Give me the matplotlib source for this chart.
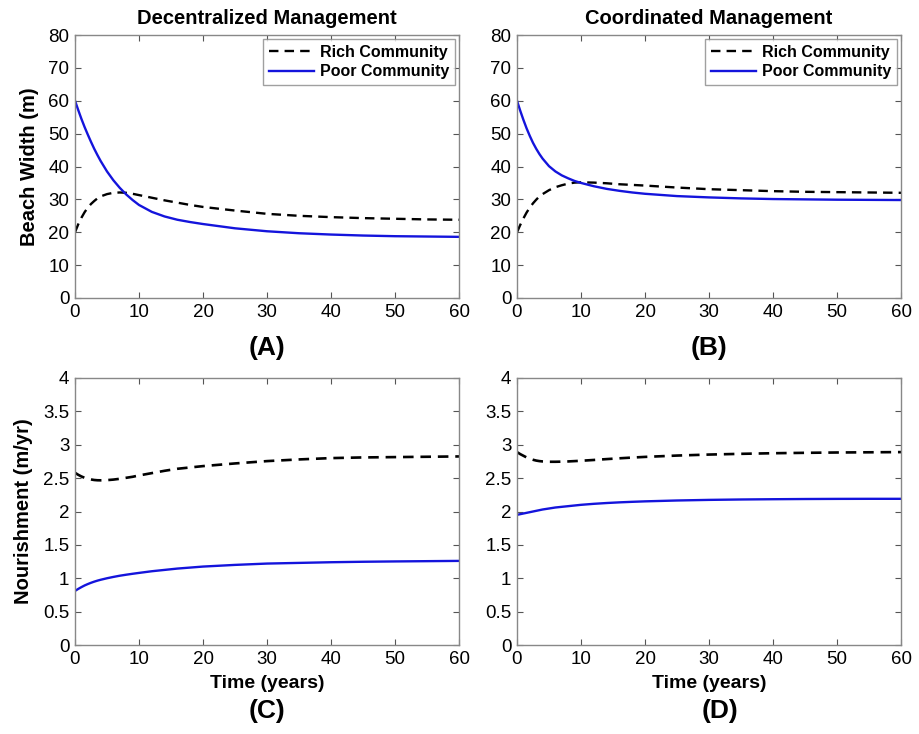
import matplotlib
matplotlib.use("Agg")
import matplotlib.pyplot as plt

plt.rcParams['font.family'] = ['Liberation Sans', 'DejaVu Sans']

t = [0, 0.5, 1, 1.5, 2, 2.5, 3, 3.5, 4, 5, 6, 7, 8, 9, 10, 12, 14, 16, 18, 20,
     25, 30, 35, 40, 45, 50, 55, 60]

# beach width (m)
width_rich_dec = [20, 22.4, 24.4, 26.1, 27.5, 28.6, 29.5, 30.3, 30.9, 31.6, 32, 32.1, 32, 31.7,
                  31.3, 30.5, 29.7, 29, 28.3, 27.7, 26.6, 25.6, 25, 24.6, 24.3, 24.1, 23.9, 23.8]
width_poor_dec = [60, 57.2, 54.5, 52, 49.7, 47.5, 45.4, 43.5, 41.7, 38.5, 35.8, 33.5, 31.5, 29.8,
                  28.3, 26.2, 24.8, 23.8, 23.1, 22.5, 21.2, 20.3, 19.7, 19.3, 19.0, 18.8, 18.7, 18.6]
width_rich_coo = [20, 22.2, 24.2, 26, 27.5, 28.8, 29.9, 30.9, 31.6, 32.8, 33.7, 34.3, 34.8, 35.1,
                  35.2, 35.1, 34.9, 34.6, 34.4, 34.2, 33.6, 33.1, 32.8, 32.5, 32.3, 32.2, 32.1, 32.0]
width_poor_coo = [60, 57, 54.2, 51.6, 49.3, 47.2, 45.4, 43.8, 42.4, 40.1, 38.5, 37.3, 36.4, 35.6,
                  35, 34, 33.2, 32.6, 32.1, 31.7, 31, 30.6, 30.3, 30.1, 30.0, 29.9, 29.85, 29.8]

# nourishment (m/yr)
nour_rich_dec = [2.58, 2.55, 2.525, 2.505, 2.49, 2.48, 2.472, 2.468, 2.467, 2.47, 2.478, 2.49,
                 2.505, 2.52, 2.54, 2.575, 2.61, 2.64, 2.66, 2.68, 2.72, 2.755, 2.78, 2.80,
                 2.81, 2.815, 2.82, 2.825]
nour_poor_dec = [0.81, 0.84, 0.867, 0.892, 0.913, 0.932, 0.949, 0.964, 0.977, 1.0, 1.02, 1.038,
                 1.053, 1.067, 1.08, 1.105, 1.125, 1.145, 1.16, 1.175, 1.2, 1.22, 1.23, 1.24,
                 1.247, 1.252, 1.256, 1.26]
nour_rich_coo = [2.89, 2.86, 2.835, 2.81, 2.79, 2.775, 2.763, 2.755, 2.75, 2.745, 2.745, 2.747,
                 2.75, 2.755, 2.76, 2.772, 2.785, 2.797, 2.808, 2.818, 2.838, 2.853, 2.864,
                 2.873, 2.879, 2.884, 2.887, 2.89]
nour_poor_coo = [1.95, 1.96, 1.97, 1.98, 1.99, 2.0, 2.01, 2.02, 2.03, 2.045, 2.06, 2.07, 2.08,
                 2.09, 2.1, 2.115, 2.127, 2.137, 2.145, 2.152, 2.165, 2.174, 2.18, 2.184,
                 2.187, 2.189, 2.19, 2.19]

fig = plt.figure(figsize=(9.19, 7.34), dpi=100)

W, H = 919, 734
def box(l, r, top, bot):
    return [l / W, 1 - bot / H, (r - l) / W, (bot - top) / H]

axA = fig.add_axes(box(75, 459, 35, 298))
axB = fig.add_axes(box(517, 901, 35, 298))
axC = fig.add_axes(box(75, 459, 378, 645))
axD = fig.add_axes(box(517, 901, 378, 645))

BLUE = '#1414dc'
DASH = (0, (4, 2.6))

def style(ax, ymax, ystep):
    ax.set_xlim(0, 60)
    ax.set_ylim(0, ymax)
    ax.set_xticks(range(0, 61, 10))
    yt = []
    v = 0
    while v <= ymax + 1e-9:
        yt.append(v)
        v += ystep
    ax.set_yticks(yt)
    ax.set_yticklabels(['%g' % y for y in yt])
    ax.tick_params(direction='in', top=True, right=True, length=4, width=0.8,
                   color='#555555', labelsize=13.5, pad=4)
    for s in ax.spines.values():
        s.set_color('#888888')
        s.set_linewidth(1.0)

for ax, rich, poor in [(axA, width_rich_dec, width_poor_dec), (axB, width_rich_coo, width_poor_coo)]:
    ax.plot(t, rich, color='black', linestyle=DASH, linewidth=1.7, label='Rich Community')
    ax.plot(t, poor, color=BLUE, linestyle='-', linewidth=1.7, label='Poor Community')
    style(ax, 80, 10)
    leg = ax.legend(loc='upper right', frameon=True, fancybox=False,
                    borderaxespad=0.25, handlelength=2.8, handletextpad=0.4,
                    borderpad=0.35, labelspacing=0.3,
                    prop={'weight': 'bold', 'size': 11.5})
    leg.get_frame().set_edgecolor('#888888')
    leg.get_frame().set_linewidth(1.0)

for ax, rich, poor in [(axC, nour_rich_dec, nour_poor_dec), (axD, nour_rich_coo, nour_poor_coo)]:
    ax.plot(t, rich, color='black', linestyle=DASH, linewidth=1.9)
    ax.plot(t, poor, color=BLUE, linestyle='-', linewidth=1.7)
    style(ax, 4, 0.5)
    ax.set_xlabel('Time (years)', fontsize=14, fontweight='bold', labelpad=5)

axA.set_title('Decentralized Management', fontsize=14.5, fontweight='bold', pad=8)
axB.set_title('Coordinated Management', fontsize=14.5, fontweight='bold', pad=8)
axA.set_ylabel('Beach Width (m)', fontsize=14.5, fontweight='bold', labelpad=7)
axC.set_ylabel('Nourishment (m/yr)', fontsize=14.5, fontweight='bold', labelpad=7)

fig.text(267 / W, 1 - 348 / H, '(A)', ha='center', va='center', fontsize=19, fontweight='bold')
fig.text(709 / W, 1 - 348 / H, '(B)', ha='center', va='center', fontsize=19, fontweight='bold')
fig.text(267 / W, 1 - 711 / H, '(C)', ha='center', va='center', fontsize=19, fontweight='bold')
fig.text(720 / W, 1 - 711 / H, '(D)', ha='center', va='center', fontsize=19, fontweight='bold')

fig.savefig('out.png', dpi=100)
